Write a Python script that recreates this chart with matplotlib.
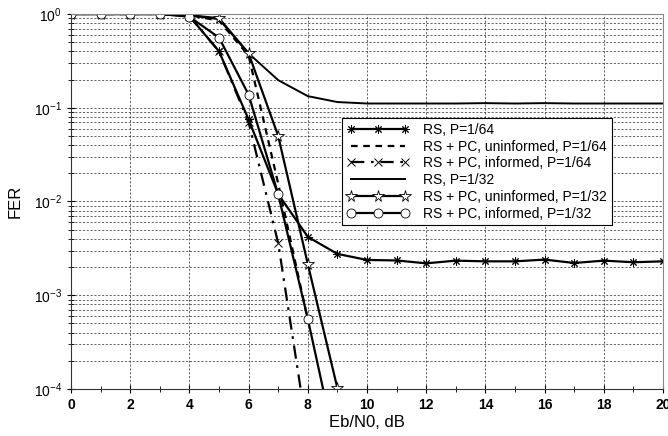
import matplotlib
matplotlib.use("Agg")
import matplotlib.pyplot as plt
import numpy as np
from matplotlib.ticker import LogLocator, MultipleLocator, NullFormatter

plt.rcParams['font.family'] = ['Liberation Sans', 'DejaVu Sans']
plt.rcParams['mathtext.fontset'] = 'custom'
plt.rcParams['mathtext.rm'] = 'Liberation Sans'

ebn0 = list(range(0, 21))

rs_64 = [1, 1, 1, 1, 0.95, 0.40, 0.075, 0.012, 4.2e-3, 2.76e-3, 2.38e-3, 2.35e-3,
         2.19e-3, 2.34e-3, 2.30e-3, 2.30e-3, 2.40e-3, 2.21e-3, 2.34e-3, 2.25e-3, 2.30e-3]
pc_unf_64 = [1, 1, 1, 1, 0.97, 0.85, 0.36, 0.0155, 5.5e-4]
pc_inf_64 = [1, 1, 1, 1, 0.95, 0.40, 0.07, 3.6e-3, 3.2e-5]
rs_32 = [1, 1, 1, 1, 0.97, 0.88, 0.38, 0.197, 0.133, 0.115, 0.111, 0.111,
         0.111, 0.111, 0.112, 0.111, 0.112, 0.111, 0.111, 0.111, 0.111]
pc_unf_32 = [1, 1, 1, 1, 0.97, 0.90, 0.38, 0.050, 2.15e-3, 1.02e-4]
pc_inf_32 = [1, 1, 1, 1, 0.935, 0.56, 0.138, 0.0119, 5.6e-4, 2.0e-5]

labels = ["RS, P=1/64", "RS + PC, uninformed, P=1/64", "RS + PC, informed, P=1/64",
          "RS, P=1/32", "RS + PC, uninformed, P=1/32", "RS + PC, informed, P=1/32"]

fig = plt.figure(figsize=(6.68, 4.36), dpi=100)
ax = fig.add_axes([71/668, 1-389/436, 592/668, 375/436])

lw = 1.6
ax.semilogy(ebn0[:len(rs_64)], rs_64, color='k', lw=lw, marker=(8, 2, 0), ms=6, mew=0.7,
            label=labels[0])
ax.semilogy(ebn0[:len(pc_unf_64)], pc_unf_64, color='k', lw=lw, ls=(0, (3, 2.5)),
            label=labels[1])
ax.semilogy(ebn0[:len(pc_inf_64)], pc_inf_64, color='k', lw=lw, ls=(0, (6, 3, 1.2, 3)),
            marker='x', ms=6, mew=0.7, label=labels[2])
ax.semilogy(ebn0[:len(rs_32)], rs_32, color='k', lw=1.4, label=labels[3])
ax.semilogy(ebn0[:len(pc_unf_32)], pc_unf_32, color='k', lw=lw, marker='*', ms=8.5,
            mfc='white', mec='k', mew=0.6, label=labels[4])
ax.semilogy(ebn0[:len(pc_inf_32)], pc_inf_32, color='k', lw=lw, marker='o', ms=6.5,
            mfc='white', mec='k', mew=0.6, label=labels[5])

ax.set_xlim(0, 20)
ax.set_ylim(1e-4, 1)
ax.xaxis.set_major_locator(MultipleLocator(2))
ax.xaxis.set_minor_locator(MultipleLocator(1))
ax.yaxis.set_major_locator(LogLocator(base=10, numticks=10))
ax.yaxis.set_minor_locator(LogLocator(base=10, subs=np.arange(2, 10), numticks=20))
ax.yaxis.set_minor_formatter(NullFormatter())

ax.grid(True, which='major', axis='x', ls=(0, (3, 2.5)), color='#222222', lw=0.5)
ax.grid(True, which='both', axis='y', ls=(0, (3, 2.5)), color='#222222', lw=0.5)
ax.tick_params(which='both', direction='inout', labelsize=10)
ax.tick_params(which='major', length=6)
ax.tick_params(which='minor', length=4)
for lab in ax.get_xticklabels():
    lab.set_fontweight('bold')

for s in ['left', 'bottom']:
    ax.spines[s].set_color('#333333')
for s in ['top', 'right']:
    ax.spines[s].set_color('#888888')

ax.set_xlabel("Eb/N0, dB", fontsize=12, labelpad=2)
ax.set_ylabel("FER", fontsize=12, labelpad=8)

leg = ax.legend(loc='upper left', bbox_to_anchor=(0.458, 0.723), numpoints=3,
                fontsize=10, handlelength=4.5, frameon=True, fancybox=False,
                edgecolor='k', framealpha=1, borderaxespad=0, labelspacing=0.2,
                borderpad=0.35, handletextpad=1.0)
leg.get_frame().set_linewidth(0.8)

fig.savefig("out.png", dpi=100, facecolor='white')
